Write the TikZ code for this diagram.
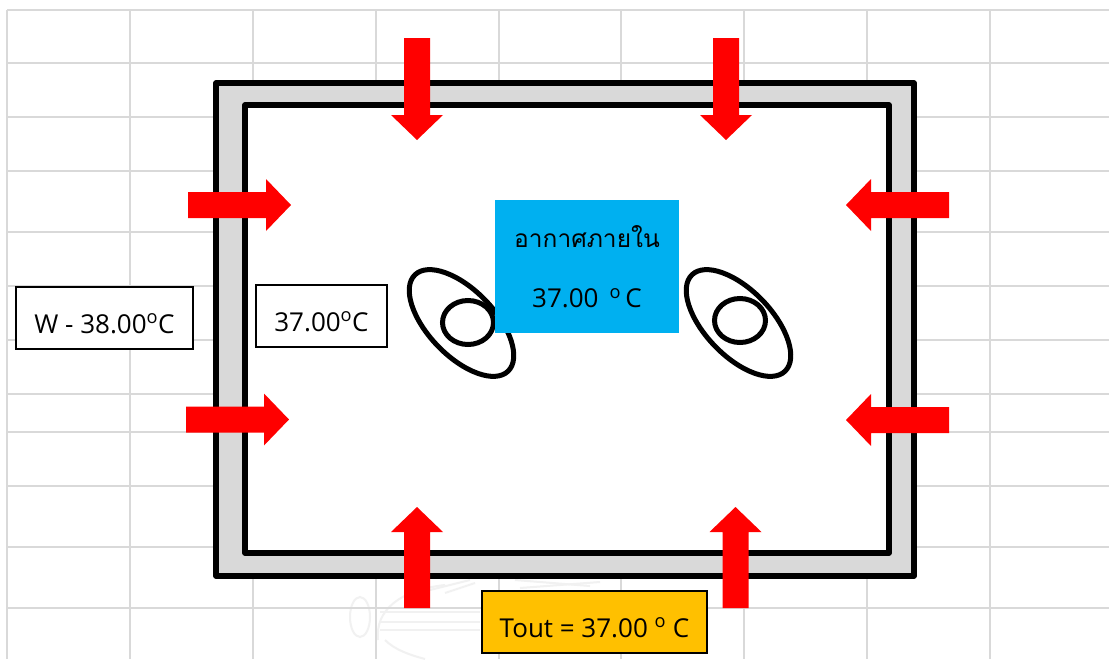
\documentclass[tikz,border=0pt]{standalone}
\usepackage{fontspec}
\setmainfont{Open Sans}
\newfontfamily\thaifont[Script=Thai]{Loma}
\usepackage{tikz}
\definecolor{gridColor}{RGB}{217,217,217}
\definecolor{wallColor}{RGB}{217,217,217}
\definecolor{airColor}{RGB}{0,176,240}
\definecolor{toutColor}{RGB}{255,192,0}
\definecolor{sealColor}{RGB}{241,241,241}
\tikzstyle{room} = [x = 1pt, y = -1pt]
\tikzstyle{gridLine} = [color=gridColor, line width=2pt]
\tikzstyle{wallLine} = [color=black, line width=5.5pt, line join=round]
\tikzstyle{fanLine} = [color=black, line width=5pt]
\tikzstyle{heatStyle} = [fill=red]
\tikzstyle{sealLine} = [color=sealColor, line width=2pt]
\tikzstyle{tempText} = [font=\fontsize{26}{30}\selectfont, text=black, inner sep=0pt]
\tikzstyle{tempBox} = [tempText, draw=black, line width=1.5pt, fill=white, text height=30pt, text depth=0pt]
\newcommand{\heatArrow}[4]{\fill [heatStyle, shift={(#1,#2)}, rotate=#3] (0,-13) -- (#4 - 25,-13) -- (#4 - 25,-26) -- (#4,0) -- (#4 - 25,26) -- (#4 - 25,13) -- (0,13) -- cycle;}
\newcommand{\fan}[4]{
  \draw [fanLine] (#1,#2) ellipse [x radius=67, y radius=33, rotate=-46];
  \draw [fanLine] (#3,#4) ellipse [x radius=25.5, y radius=22];
}
\begin{document}
\begin{tikzpicture}[room]
  \useasboundingbox (0,0) rectangle (1109,659);
  \fill [white] (0,0) rectangle (1109,659);
  % faint seal under the sheet
  \draw [sealLine] (360,617) ellipse [x radius=10, y radius=20];
  \draw [sealLine] (378,640) .. controls (375,610) and (400,590) .. (445,585);
  \draw [sealLine] (385,640) .. controls (395,650) and (410,655) .. (425,659);
  \foreach \band in {612,622,630} {
    \draw [sealLine] (380,\band) -- (480,\band);
  }
  \draw [sealLine] (430,590) -- (470,580);
  \draw [sealLine] (445,593) -- (475,583);
  \draw [sealLine] (515,580) -- (590,586);
  \draw [sealLine] (520,588) -- (600,582);
  % sheet behind the room
  \foreach \vertical in {7,130,253,376,499,621,744,867,990} {
    \draw [gridLine] (\vertical,10) -- (\vertical,659);
  }
  \foreach \horizontal in {10,63,117,171,232,286,340,394,432,486,547,608} {
    \draw [gridLine] (7,\horizontal) -- (1109,\horizontal);
  }
  % walls
  \filldraw [wallLine, fill=wallColor] (216,83) rectangle (914,576);
  \filldraw [wallLine, fill=white] (245,105) rectangle (889,553);
  % fans
  \fan{461.5}{323}{468}{322.5}
  \fan{738.5}{323}{740}{320.5}
  % heat flow
  \heatArrow{417}{38}{-90}{102}
  \heatArrow{726}{38}{-90}{102}
  \heatArrow{417}{608}{90}{101}
  \heatArrow{735.5}{608}{90}{101}
  \heatArrow{188}{205}{0}{103}
  \heatArrow{186}{419.5}{0}{103}
  \heatArrow{949}{205}{180}{103}
  \heatArrow{949}{420}{180}{103}
  % labels
  \node [tempBox, minimum width=177pt, minimum height=62pt] (wallOut) at (104.5,318) {W - 38.00\textsuperscript{o}C};
  \node [tempBox, minimum width=131pt, minimum height=62pt] (wallIn) at (321.5,316) {37.00\textsuperscript{o}C};
  \node [tempText, fill=airColor, minimum width=184pt, minimum height=133pt, align=center] (airIn) at (587,266.5) {{\thaifont\fontsize{24.5}{30}\selectfont อากาศภายใน}\\[30pt]37.00 \,\textsuperscript{o}\,C};
  \node [tempBox, fill=toutColor, minimum width=225pt, minimum height=62pt] (tout) at (594.5,622) {Tout = 37.00 \textsuperscript{o} C};
\end{tikzpicture}
\end{document}
